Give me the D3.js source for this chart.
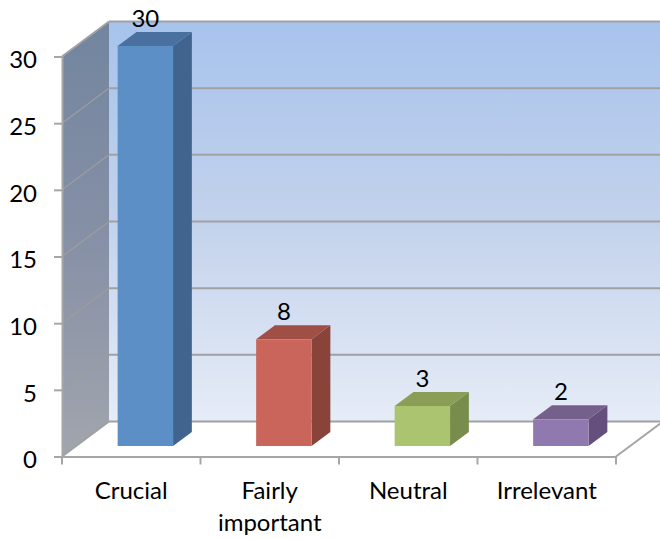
<!DOCTYPE html>
<html>
<head>
<meta charset="utf-8">
<script src="https://cdn.jsdelivr.net/npm/d3@7"></script>
<style>
  html, body { margin: 0; padding: 0; background: #fff; }
  svg { display: block; }
  text { font-family: Lato, "Open Sans", sans-serif; fill: #000; }
</style>
</head>
<body>
<div id="chart"></div>
<script>
  // chart values
  const categories = ["Crucial", "Fairly important", "Neutral", "Irrelevant"];
  const counts = [30, 8, 3, 2];
  const yTicks = [0, 5, 10, 15, 20, 25, 30];
  const frontColors = ["#5b8fc5", "#c9655a", "#aac46f", "#9079ae"];
  const sideColors = ["#41648e", "#8a4339", "#788c4c", "#654f7c"];
  const topColors = ["#4a709f", "#a04f45", "#8a9f55", "#74608a"];

  const width = 660,
    height = 539;

  // front plane of the 3D box, and how far the back wall is pushed
  const x0 = 62,
    x1 = 616,
    yBase = 456.5,
    yTop = 56.5,
    depthX = 47,
    depthY = -35;

  const x = d3
    .scaleBand()
    .domain(categories)
    .range([x0, x1])
    .paddingInner(0.6)
    .paddingOuter(0.3);

  const y = d3.scaleLinear().domain([0, 30]).range([yBase, yTop]);

  // project a point (px on the front plane) to depth d, 0 = front, 1 = back wall
  const px = (v, d) => v + depthX * d;
  const py = (v, d) => v + depthY * d;

  const poly = (pts) => pts.map((p) => p.join(",")).join(" ");

  const svg = d3
    .select("#chart")
    .append("svg")
    .attr("width", width)
    .attr("height", height);

  const defs = svg.append("defs");

  const backGrad = defs
    .append("linearGradient")
    .attr("id", "backWall")
    .attr("x1", 0)
    .attr("y1", 0)
    .attr("x2", 0)
    .attr("y2", 1);
  backGrad.append("stop").attr("offset", "0%").attr("stop-color", "#a7c3ec");
  backGrad.append("stop").attr("offset", "50%").attr("stop-color", "#c3d2ec");
  backGrad.append("stop").attr("offset", "100%").attr("stop-color", "#e6ecf7");

  const sideGrad = defs
    .append("linearGradient")
    .attr("id", "sideWall")
    .attr("x1", 0)
    .attr("y1", 0)
    .attr("x2", 0)
    .attr("y2", 1);
  sideGrad.append("stop").attr("offset", "0%").attr("stop-color", "#72859f");
  sideGrad.append("stop").attr("offset", "50%").attr("stop-color", "#8690a6");
  sideGrad.append("stop").attr("offset", "100%").attr("stop-color", "#a1a5ad");

  // back wall, runs off the right edge
  svg
    .append("rect")
    .attr("x", px(x0, 1))
    .attr("y", py(yTop, 1))
    .attr("width", width - px(x0, 1))
    .attr("height", yBase - yTop)
    .attr("fill", "url(#backWall)");

  // left wall
  svg
    .append("polygon")
    .attr(
      "points",
      poly([
        [x0, yTop],
        [px(x0, 1), py(yTop, 1)],
        [px(x0, 1), py(yBase, 1)],
        [x0, yBase],
      ])
    )
    .attr("fill", "url(#sideWall)");

  // grid lines on both walls
  const grid = svg.append("g");
  yTicks.forEach((t) => {
    const edge = t === 30 || t === 0;
    grid
      .append("line")
      .attr("x1", px(x0, 1))
      .attr("x2", width)
      .attr("y1", py(y(t), 1))
      .attr("y2", py(y(t), 1))
      .attr("stroke", "#a0a1a3")
      .attr("stroke-width", 2);
    grid
      .append("line")
      .attr("x1", x0)
      .attr("y1", y(t))
      .attr("x2", px(x0, 1))
      .attr("y2", py(y(t), 1))
      .attr("stroke", edge ? "#a0a1a3" : "#9d9d9c")
      .attr("stroke-width", edge ? 2 : 1.2);
  });

  // floor's right edge
  svg
    .append("line")
    .attr("x1", x1)
    .attr("y1", yBase)
    .attr("x2", px(x1, 1))
    .attr("y2", py(yBase, 1))
    .attr("stroke", "#a6a6a6")
    .attr("stroke-width", 2);

  // axes
  const yAxis = svg
    .append("g")
    .attr("transform", `translate(${x0},0)`)
    .call(
      d3
        .axisLeft(y)
        .tickValues(yTicks)
        .tickSize(8)
        .tickPadding(17)
    );

  const xAxis = svg
    .append("g")
    .attr("transform", `translate(0,${yBase})`)
    .call(d3.axisBottom(x).tickSize(0).tickPadding(0).tickFormat(""));

  // tick marks sit between the categories, not under them
  const step = x.step();
  d3.range(categories.length + 1).forEach((i) => {
    xAxis
      .append("line")
      .attr("x1", x0 + i * step)
      .attr("x2", x0 + i * step)
      .attr("y1", 0)
      .attr("y2", 8)
      .attr("stroke", "#a6a6a6")
      .attr("stroke-width", 2);
  });

  [yAxis, xAxis].forEach((axis) => {
    axis.selectAll(".domain").attr("stroke", "#a6a6a6").attr("stroke-width", 2);
    axis.selectAll(".tick line").attr("stroke", "#a6a6a6").attr("stroke-width", 2);
  });

  yAxis
    .selectAll(".tick text")
    .style("font-size", "24px")
    .attr("dy", "0.47em")
    .attr("fill", "#000");

  // category labels, two words go on two lines
  const catLabels = svg.append("g");
  categories.forEach((c) => {
    const label = catLabels
      .append("text")
      .attr("text-anchor", "middle")
      .style("font-size", "24px");
    c.split(" ").forEach((word, i) => {
      label
        .append("tspan")
        .attr("x", x(c) + x.bandwidth() / 2)
        .attr("y", 499 + i * 32)
        .text(word);
    });
  });

  // bars: the front face stands 0.3 into the floor and is 0.4 deep
  const barFront = 0.3,
    barBack = 0.7;

  const bars = svg
    .selectAll(".bar")
    .data(categories)
    .enter()
    .append("g")
    .attr("class", "bar");

  bars.each(function (c, i) {
    const g = d3.select(this);
    const left = px(x(c), barFront);
    const right = left + x.bandwidth();
    const bottom = py(y(0), barFront);
    const top = py(y(counts[i]), barFront);
    const dx = depthX * (barBack - barFront);
    const dy = depthY * (barBack - barFront);

    g.append("polygon")
      .attr(
        "points",
        poly([
          [right, top],
          [right + dx, top + dy],
          [right + dx, bottom + dy],
          [right, bottom],
        ])
      )
      .attr("fill", sideColors[i]);

    g.append("polygon")
      .attr(
        "points",
        poly([
          [left, top],
          [left + dx, top + dy],
          [right + dx, top + dy],
          [right, top],
        ])
      )
      .attr("fill", topColors[i]);

    g.append("rect")
      .attr("x", left)
      .attr("y", top)
      .attr("width", x.bandwidth())
      .attr("height", bottom - top)
      .attr("fill", frontColors[i]);

    // value label above the bar's back edge
    g.append("text")
      .attr("x", left + x.bandwidth() / 2)
      .attr("y", top + dy - 5)
      .attr("text-anchor", "middle")
      .style("font-size", "24px")
      .text(counts[i]);
  });
</script>
</body>
</html>
